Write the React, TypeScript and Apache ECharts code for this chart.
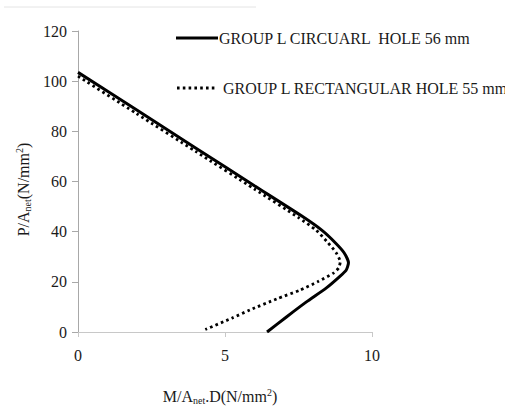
import React, { useEffect, useRef } from "react";
import * as echarts from "echarts";

// Interaction curves: normalised moment M/(A_net·D) against normalised axial load P/A_net
const circularM = [0, 2, 4, 6, 7.6, 8.3, 8.75, 9.05, 9.2, 9.12, 8.88, 8.45, 7.77, 7.09, 6.43];
const circularP = [103.5, 88.5, 73.4, 58.3, 46.3, 40.5, 35.6, 31.6, 27.6, 24.6, 21.9, 17.6, 12, 6, 0];

const rectM = [0, 2, 4, 6, 7.5, 8.1, 8.5, 8.78, 8.92, 8.87, 8.7, 8.15, 7.55, 6.76, 5.85, 5.23, 4.33];
const rectP = [102, 87, 72, 57, 45.6, 40.6, 35.6, 31.6, 28, 25.6, 23.6, 20, 16.7, 13.2, 8.8, 5.5, 1.0];

const seriesNames = ["GROUP L CIRCUARL  HOLE 56 mm", "GROUP L RECTANGULAR HOLE 55 mm"];
const xTicks = { min: 0, max: 10, interval: 5 };
const yTicks = { min: 0, max: 120, interval: 20 };

const FONT = "'Liberation Serif', 'Times New Roman', serif";
const TEXT = "#1a1a1a";

const pairs = (xs: number[], ys: number[]) => xs.map((x, i) => [x, ys[i]]);

export default function App() {
  const ref = useRef<HTMLDivElement>(null);

  useEffect(() => {
    if (!ref.current) return;
    const chart = echarts.init(ref.current, undefined, { renderer: "svg" });
    const rich = {
      sub: { fontSize: 10, lineHeight: 10, verticalAlign: "bottom" as const, fontFamily: FONT, color: TEXT },
      sup: { fontSize: 10, lineHeight: 10, verticalAlign: "top" as const, fontFamily: FONT, color: TEXT },
    };
    chart.setOption({
      animation: false,
      backgroundColor: "#ffffff",
      textStyle: { fontFamily: FONT, color: TEXT },
      grid: { left: 78, right: 133, top: 31, bottom: 74.5, containLabel: false },
      xAxis: {
        type: "value",
        ...xTicks,
        name: "M/A{sub|net}.D(N/mm{sup|2})",
        nameLocation: "middle",
        nameGap: 55,
        nameTextStyle: { fontSize: 16, lineHeight: 18, fontFamily: FONT, color: TEXT, rich, padding: [0, 10, 0, 0] },
        axisLine: { show: true, lineStyle: { color: "#c8c8c8", width: 1 } },
        axisTick: { show: true, length: 5, lineStyle: { color: "#c8c8c8" } },
        axisLabel: { fontSize: 16, color: TEXT, fontFamily: FONT, margin: 15 },
        splitLine: { show: false },
      },
      yAxis: {
        type: "value",
        ...yTicks,
        name: "P/A{sub|net}(N/mm{sup|2})",
        nameLocation: "middle",
        nameRotate: 90,
        nameGap: 38,
        nameTextStyle: { fontSize: 16, lineHeight: 18, fontFamily: FONT, color: TEXT, rich, padding: [0, 16, 0, 0] },
        axisLine: { show: true, lineStyle: { color: "#a8a8a8", width: 1 } },
        axisTick: { show: true, length: 6, lineStyle: { color: "#a8a8a8" } },
        axisLabel: { fontSize: 16, color: TEXT, fontFamily: FONT, margin: 11 },
        splitLine: { show: false },
      },
      graphic: [
        { type: "line", shape: { x1: 4, y1: 7, x2: 256, y2: 7 }, style: { stroke: "#e4e4e4", lineWidth: 1 } },
        { type: "line", shape: { x1: 176, y1: 38, x2: 218, y2: 38 }, style: { stroke: "#000", lineWidth: 3 } },
        {
          type: "text", x: 219, y: 38,
          style: { text: seriesNames[0], font: `16px ${FONT}`, fill: TEXT, verticalAlign: "middle" },
        },
        {
          type: "line", shape: { x1: 177, y1: 88, x2: 216, y2: 88 },
          style: { stroke: "#000", lineWidth: 2.8, lineDash: [2.6, 3.2] },
        },
        {
          type: "text", x: 223, y: 88,
          style: { text: seriesNames[1], font: `16px ${FONT}`, fill: TEXT, verticalAlign: "middle" },
        },
      ],
      series: [
        {
          name: seriesNames[0],
          type: "line",
          data: pairs(circularM, circularP),
          symbol: "none",
          smooth: 0.2,
          lineStyle: { color: "#000", width: 3 },
        },
        {
          name: seriesNames[1],
          type: "line",
          data: pairs(rectM, rectP),
          symbol: "none",
          smooth: 0.2,
          lineStyle: { color: "#000", width: 2.8, type: [2.6, 3.2] },
        },
      ],
    });
    return () => chart.dispose();
  }, []);

  return (
    <div
      ref={ref}
      style={{ position: "fixed", left: 0, top: 0, width: 505, height: 410, background: "#fff" }}
    />
  );
}
